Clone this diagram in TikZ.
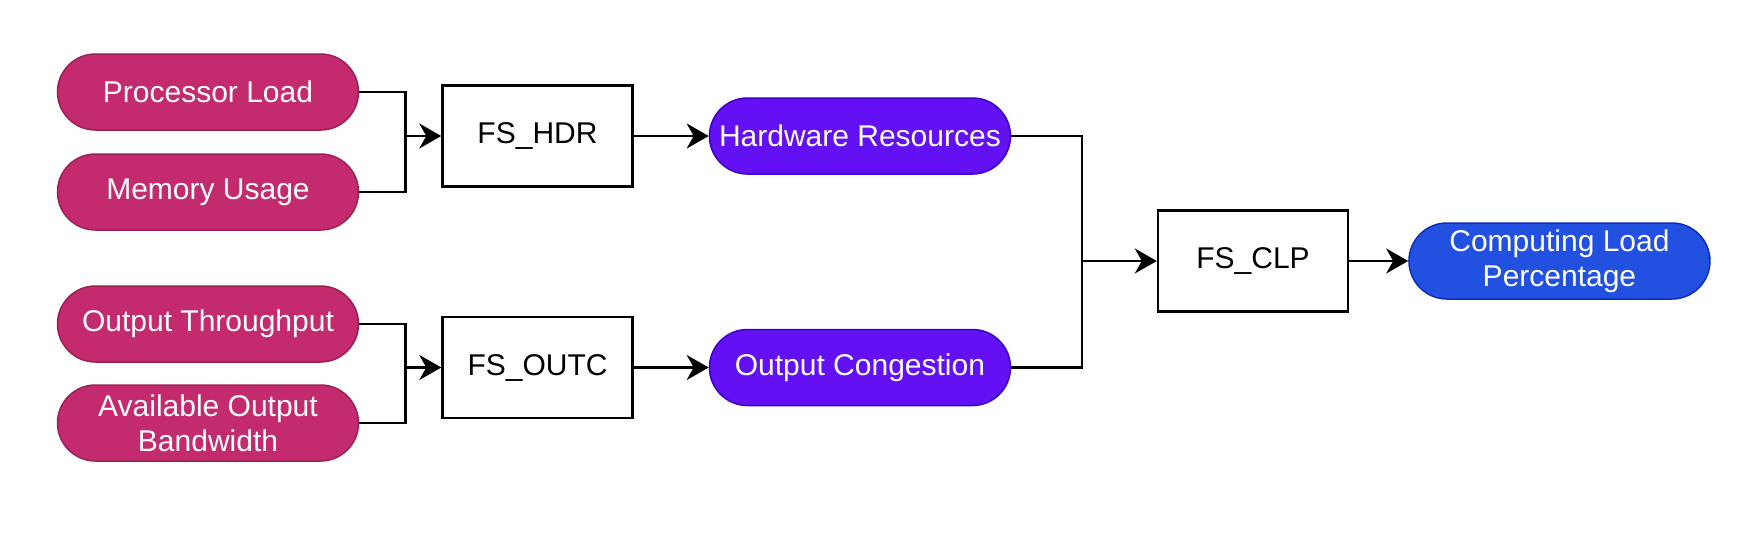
\documentclass[tikz,border=0pt]{standalone}
\usepackage{fontspec}
\setmainfont{Liberation Sans}
\usepackage{tikz}
\usetikzlibrary{arrows.meta,positioning}
\definecolor{PillPink}{HTML}{C42A6E}
\definecolor{PillPinkLine}{HTML}{9A2153}
\definecolor{PillViolet}{HTML}{6410F4}
\definecolor{PillVioletLine}{HTML}{3A00C8}
\definecolor{PillCobalt}{HTML}{2251E2}
\definecolor{PillCobaltLine}{HTML}{0F2DB4}

\begin{document}
\begin{tikzpicture}[
 x=1pt,y=-1pt,
 pill/.style={rounded corners=38pt,minimum width=301pt,minimum height=76pt,inner sep=0pt,align=center,line width=1.5pt,text=white,font=\fontsize{30}{35}\selectfont},
 inpill/.style={pill,fill=PillPink,draw=PillPinkLine},
 midpill/.style={pill,fill=PillViolet,draw=PillVioletLine},
 outpill/.style={pill,fill=PillCobalt,draw=PillCobaltLine},
 fsbox/.style={draw=black,fill=white,line width=2.4pt,minimum width=190pt,minimum height=101pt,inner sep=0pt,font=\fontsize{30}{35}\selectfont},
 wire/.style={line width=2.4pt,black},
 arrow/.style={wire,-{Stealth[length=22pt,width=25pt,inset=7pt]}}
]
\useasboundingbox (0,0) rectangle (1754,550);
\node[inpill] (pl) at (208,92) {Processor Load};
\node[inpill] (mu) at (208,192) {Memory Usage};
\node[inpill] (ot) at (208,324) {Output Throughput};
\node[inpill] (ab) at (208,423) {Available Output\\Bandwidth};
\node[fsbox] (hdr) at (537.5,136) {FS\_HDR};
\node[fsbox] (outc) at (537.5,367.5) {FS\_OUTC};
\node[midpill,right=75pt of hdr] (hw) {Hardware Resources};
\node[midpill,right=75pt of outc] (oc) {Output Congestion};
\node[fsbox] (clp) at (1253,261) {FS\_CLP};
\node[outpill,right=59pt of clp] (cl) {Computing Load\\Percentage};
% junctions
\coordinate (jhdr) at ([xshift=-36pt]hdr.west);
\coordinate (joutc) at ([xshift=-36pt]outc.west);
\coordinate (jclp) at ([xshift=-75pt]clp.west);
\draw[wire] (pl.east) -| (jhdr); \draw[wire] (mu.east) -| (jhdr);
\draw[wire] (ot.east) -| (joutc); \draw[wire] (ab.east) -| (joutc);
\draw[arrow] (jhdr)--(hdr); \draw[arrow] (joutc)--(outc);
\draw[arrow] (hdr)--(hw); \draw[arrow] (outc)--(oc);
\draw[wire] (hw.east) -| (jclp); \draw[wire] (oc.east) -| (jclp);
\draw[arrow] (jclp)--(clp); \draw[arrow] (clp)--(cl);
\end{tikzpicture}
\end{document}
